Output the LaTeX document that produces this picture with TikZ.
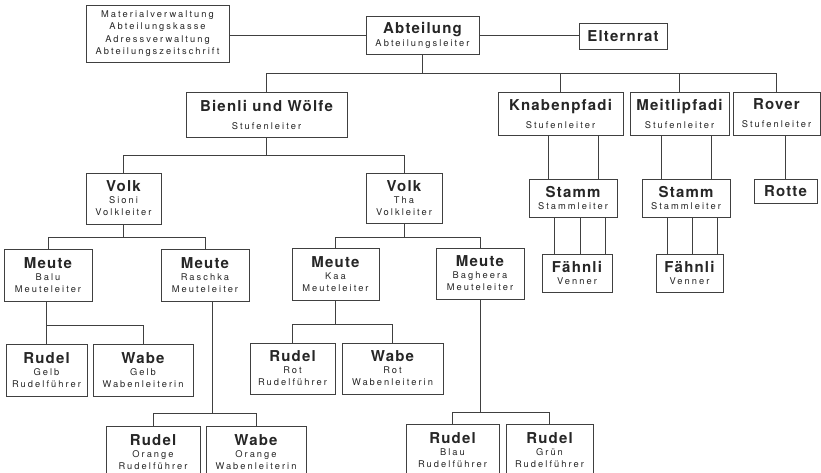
\documentclass[tikz,border=0pt]{standalone}
\usepackage{fontspec}
\newfontfamily\ttlfam[LetterSpace=8]{TeX Gyre Heros}
\newfontfamily\smtfam[LetterSpace=22]{TeX Gyre Heros}
\newcommand\ttl{\ttlfam\bfseries\fontsize{15}{16}\selectfont}
\newcommand\smt{\smtfam\fontsize{9.3}{12}\selectfont}
\tikzset{
  box/.style={draw=black!75, line width=0.8pt, rectangle, inner sep=0pt, align=center, font=\smt, text=black!85},
  conn/.style={draw=black!75, line width=0.8pt},
}
\newcommand{\bx}[6]{\node[box, minimum width={#4-#2}, minimum height={#5-#3}] (#1) at ({(#2+#4)/2},{(#3+#5)/2}) {#6};}
\begin{document}
\begin{tikzpicture}[x=1pt,y=-1pt]
\clip (0,0) rectangle (821,473);
\fill[white] (0,0) rectangle (821,473);
% boxes
\bx{mat}{86}{5}{229}{62}{Materialverwaltung\\[0.5pt]Abteilungskasse\\[0.5pt]Adressverwaltung\\[0.5pt]Abteilungszeitschrift}
\bx{abt}{366}{16}{479}{54}{{\ttl Abteilung}\\[1pt]Abteilungsleiter}
\bx{elt}{579}{23}{667}{49}{{\ttl Elternrat}}
\bx{bie}{186}{92}{347}{137}{{\ttl Bienli und Wölfe}\\[6pt]Stufenleiter}
\bx{kna}{498}{92}{623}{135}{{\ttl Knabenpfadi}\\[6pt]Stufenleiter}
\bx{mei}{630}{92}{729}{135}{{\ttl Meitlipfadi}\\[6pt]Stufenleiter}
\bx{rov}{733}{92}{820}{135}{{\ttl Rover}\\[6pt]Stufenleiter}
\bx{st1}{529}{179}{617}{217}{{\ttl Stamm}\\Stammleiter}
\bx{st2}{642}{179}{730}{217}{{\ttl Stamm}\\Stammleiter}
\bx{rot}{754}{179}{817}{203}{{\ttl Rotte}}
\bx{fa1}{542}{254}{612}{292}{{\ttl Fähnli}\\Venner}
\bx{fa2}{656}{254}{723}{292}{{\ttl Fähnli}\\Venner}
\bx{vo1}{86}{173}{161}{224}{{\ttl Volk}\\Sioni\\Volkleiter}
\bx{vo2}{366}{173}{442}{223}{{\ttl Volk}\\Tha\\Volkleiter}
\bx{mbal}{4}{249}{92}{301}{{\ttl Meute}\\Balu\\Meuteleiter}
\bx{mras}{161}{249}{249}{301}{{\ttl Meute}\\Raschka\\Meuteleiter}
\bx{mkaa}{292}{248}{379}{300}{{\ttl Meute}\\Kaa\\Meuteleiter}
\bx{mbag}{436}{248}{524}{299}{{\ttl Meute}\\Bagheera\\Meuteleiter}
\bx{rgelb}{6}{344}{87}{396}{{\ttl Rudel}\\Gelb\\Rudelführer}
\bx{wgelb}{93}{344}{193}{396}{{\ttl Wabe}\\Gelb\\Wabenleiterin}
\bx{rrot}{250}{343}{335}{394}{{\ttl Rudel}\\Rot\\Rudelführer}
\bx{wrot}{342}{343}{443}{394}{{\ttl Wabe}\\Rot\\Wabenleiterin}
\bx{rora}{106}{426}{200}{478}{{\ttl Rudel}\\Orange\\Rudelführer}
\bx{wora}{206}{426}{306}{478}{{\ttl Wabe}\\Orange\\Wabenleiterin}
\bx{rbla}{406}{424}{499}{476}{{\ttl Rudel}\\Blau\\Rudelführer}
\bx{rgru}{506}{424}{593}{476}{{\ttl Rudel}\\Grün\\Rudelführer}
% connectors
\draw[conn] (abt.west) -- (abt.west -| mat.east);
\draw[conn] (abt.east) -- (abt.east -| elt.west);
\coordinate (b1) at (0,73);
\draw[conn] (abt.south) -- (abt.south |- b1);
\draw[conn] (bie.north) |- (rov.north |- b1) -- (rov.north);
\draw[conn] (kna.north) -- (kna.north |- b1);
\draw[conn] (mei.north) -- (mei.north |- b1);
\foreach \d in {-25,25} {
  \draw[conn] ([xshift=\d pt]st1.north) -- ([xshift=\d pt]st1.north |- kna.south);
  \draw[conn] ([xshift=\d pt]st2.north) -- ([xshift=\d pt]st2.north |- mei.south);
}
\draw[conn] (rot.north) -- (rot.north |- rov.south);
\foreach \d in {-23,3,28} {
  \draw[conn] ([xshift=\d pt]fa1.north) -- ([xshift=\d pt]fa1.north |- st1.south);
}
\foreach \d in {-22.5,2.5,27.5} {
  \draw[conn] ([xshift=\d pt]fa2.north) -- ([xshift=\d pt]fa2.north |- st2.south);
}
\coordinate (b2) at (0,155);
\draw[conn] (bie.south) -- (bie.south |- b2);
\draw[conn] (vo1.north) |- (vo2.north |- b2) -- (vo2.north);
\coordinate (b3) at (0,237);
\draw[conn] (vo1.south) -- (vo1.south |- b3);
\draw[conn] (mbal.north) |- (mras.north |- b3) -- (mras.north);
\draw[conn] (vo2.south) -- (vo2.south |- b3);
\draw[conn] (mkaa.north) |- (mbag.north |- b3) -- (mbag.north);
\coordinate (b4) at (0,325);
\draw[conn] (mbal.south -| rgelb.north) -- (rgelb.north);
\draw[conn] (rgelb.north |- b4) -| (wgelb.north);
\coordinate (b5) at (0,413);
\draw[conn] ([xshift=7pt]mras.south) -- ([xshift=7pt]mras.south |- b5);
\draw[conn] (rora.north) |- (wora.north |- b5) -- (wora.north);
\coordinate (b6) at (0,324);
\draw[conn] (mkaa.south) -- (mkaa.south |- b6);
\draw[conn] (rrot.north) |- (wrot.north |- b6) -- (wrot.north);
\coordinate (b7) at (0,412);
\draw[conn] (mbag.south) -- (mbag.south |- b7);
\draw[conn] (rbla.north) |- (rgru.north |- b7) -- (rgru.north);
\end{tikzpicture}
\end{document}
